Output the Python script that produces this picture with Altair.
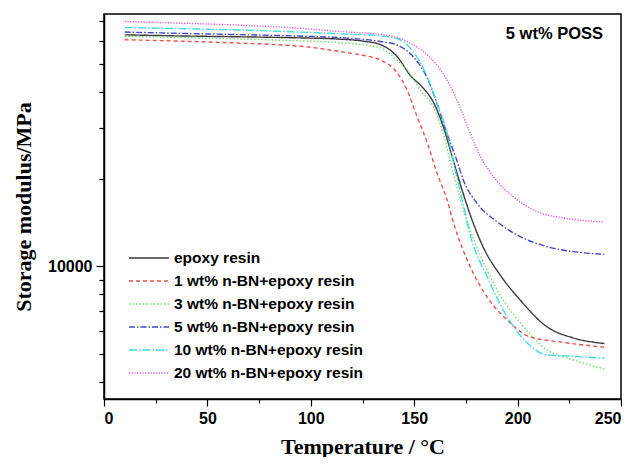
import altair as alt
import pandas as pd

series = [
    "epoxy resin",
    "1 wt% n-BN+epoxy resin",
    "3 wt% n-BN+epoxy resin",
    "5 wt% n-BN+epoxy resin",
    "10 wt% n-BN+epoxy resin",
    "20 wt% n-BN+epoxy resin",
]
colors = ["#3c3c3c", "#e8504c", "#72dc6a", "#4646c8", "#40dede", "#e055e0"]
dashes = [[1, 0], [4, 3], [1.5, 2], [6, 2, 1.5, 2], [8, 2, 1.5, 2], [1.2, 1.5]]

epoxy_T = [10, 35, 61, 90, 114, 125, 134, 141.7, 148, 154.3, 159.1, 164, 168.8, 173.6, 177.9, 183.3, 191.5, 201.2, 214.2, 226.8, 242]
epoxy_V = [62800, 62300, 61900, 61400, 60700, 59800, 58000, 52900, 45600, 41200, 37000, 30400, 23300, 17900, 14500, 11670, 9350, 7660, 6190, 5670, 5420]

bn1_T = [10, 35, 61, 85, 100, 114, 125, 133.5, 141.7, 146.5, 151.4, 156.3, 161, 165.9, 169, 177, 185.2, 194.9, 206, 220.5, 242]
bn1_V = [60400, 59800, 59000, 58000, 56900, 55000, 53400, 51500, 46500, 40600, 32800, 26700, 21000, 16950, 14130, 10000, 7850, 6540, 5710, 5490, 5260]

bn3_T = [10, 35, 61, 90, 114, 133.5, 136.8, 141.5, 146.5, 152.8, 159.1, 163.9, 168.8, 174.6, 177, 185.2, 193, 201.2, 214.2, 226.8, 242]
bn3_V = [62000, 61500, 60900, 60000, 59000, 56800, 55000, 51500, 47600, 40600, 35500, 28860, 21000, 15000, 13360, 9730, 7660, 6400, 5150, 4760, 4430]

bn5_T = [10, 35, 61, 90, 114, 133.5, 141.5, 149.4, 156, 160.9, 165.7, 170.5, 173.7, 180.2, 190, 201.2, 214.1, 227, 242]
bn5_V = [64200, 63600, 63000, 62300, 61400, 59600, 58050, 52900, 45030, 36630, 28860, 23290, 19880, 16560, 14260, 12670, 11700, 11240, 11000]

bn10_T = [10, 35, 61, 90, 114, 133.5, 143.1, 149.4, 156.3, 161, 165.9, 169.5, 173.6, 177, 185.2, 194.9, 204.5, 214.2, 226.8, 242]
bn10_V = [66600, 66000, 65400, 64400, 63300, 62350, 60400, 55050, 45030, 36630, 28860, 22000, 16500, 12900, 9230, 6710, 5450, 4950, 4900, 4820]

bn20_T = [10, 35, 61, 90, 114, 138, 148, 157.6, 165, 172, 177, 182, 187, 191.5, 197.8, 210.8, 222, 240, 242]
bn20_V = [69800, 69000, 68000, 66500, 64500, 62400, 58850, 52500, 45000, 35560, 28860, 23900, 21010, 19100, 17400, 15290, 14700, 14250, 14230]

temps = [epoxy_T, bn1_T, bn3_T, bn5_T, bn10_T, bn20_T]
mods = [epoxy_V, bn1_V, bn3_V, bn5_V, bn10_V, bn20_V]

x_ticks = [0, 25, 50, 75, 100, 125, 150, 175, 200, 225, 250]
y_ticks = [4000, 5000, 6000, 7000, 8000, 9000, 10000, 20000, 30000, 40000, 50000, 60000, 70000]
annotation = "5 wt% POSS"

rows = []
for name, T, V in zip(series, temps, mods):
    for t, v in zip(T, V):
        rows.append({"series": name, "T": t, "E": v})
df = pd.DataFrame(rows)

legend = alt.Legend(
    title=None,
    orient="none",
    legendX=24,
    legendY=236,
    symbolType="stroke",
    symbolSize=1600,
    symbolStrokeWidth=1.5,
    clipHeight=16,
    rowPadding=6,
    labelFont="Liberation Sans",
    labelFontWeight="bold",
    labelFontSize=15.5,
    labelColor="black",
    labelOffset=4,
    padding=0,
    labelLimit=400,
)

lines = alt.Chart(df).mark_line(strokeWidth=1.4, interpolate="monotone", clip=True).encode(
    x=alt.X(
        "T:Q",
        scale=alt.Scale(domain=[0, 250], nice=False, zero=False),
        axis=alt.Axis(
            title="Temperature / °C",
            values=x_ticks,
            format="d",
            labelExpr="datum.value % 50 == 0 ? datum.label : ''",
            tickSize={"condition": {"test": "datum.value % 50 == 0", "value": 7}, "value": 4},
            labelPadding=4,
            titlePadding=10,
        ),
    ),
    y=alt.Y(
        "E:Q",
        scale=alt.Scale(type="log", domain=[3490, 74100], nice=False),
        axis=alt.Axis(
            title="Storage modulus/MPa",
            values=y_ticks,
            labelExpr="datum.value == 10000 ? '10000' : ''",
            tickSize={"condition": {"test": "datum.value == 10000", "value": 8}, "value": 5},
            labelPadding=4,
            titlePadding=12,
        ),
    ),
    color=alt.Color("series:N", scale=alt.Scale(domain=series, range=colors), sort=series, legend=legend),
    strokeDash=alt.StrokeDash("series:N", scale=alt.Scale(domain=series, range=dashes), sort=series, legend=legend),
)

note = alt.Chart(pd.DataFrame({"t": [annotation]})).mark_text(
    align="right", baseline="middle", font="Liberation Sans", fontWeight="bold", fontSize=16.5, color="black"
).encode(text="t:N", x=alt.value(499), y=alt.value(20))

chart = alt.layer(lines, note).properties(
    width=517, height=385, background="white",
    padding={"left": 4, "top": 6, "right": 0, "bottom": 0},
).configure_view(stroke="black", strokeWidth=1.5).configure_axis(
    grid=False,
    domainColor="black",
    domainWidth=1.5,
    tickColor="black",
    tickWidth=1.2,
    labelFont="Liberation Sans",
    labelFontWeight="bold",
    labelFontSize=16,
    labelColor="black",
    titleFont="Liberation Serif",
    titleFontWeight="bold",
    titleFontSize=22,
    titleColor="black",
)

chart.save("out.html", embed_options={"renderer": "svg", "actions": False})
